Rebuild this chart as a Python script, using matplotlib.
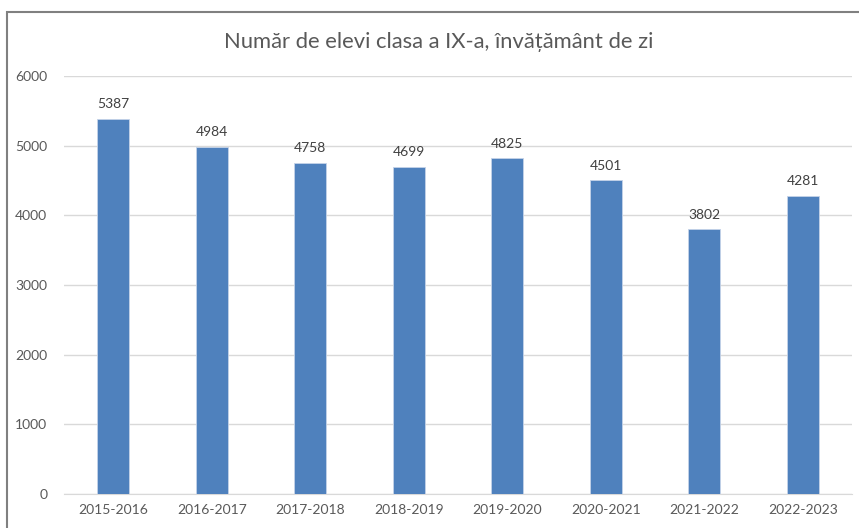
import matplotlib
matplotlib.use("Agg")
import matplotlib.pyplot as plt
from matplotlib.patches import Rectangle

categories = ["2015-2016", "2016-2017", "2017-2018", "2018-2019",
              "2019-2020", "2020-2021", "2021-2022", "2022-2023"]
values = [5387, 4984, 4758, 4699, 4825, 4501, 3802, 4281]
yticks = [0, 1000, 2000, 3000, 4000, 5000, 6000]
title = "Număr de elevi clasa a IX-a, învățământ de zi"

plt.rcParams['font.family'] = ['Lato', 'DejaVu Sans']

W, H = 859, 528
fig = plt.figure(figsize=(W/100, H/100), dpi=100)
fig.patch.set_facecolor("white")

# outer border (chart frame, cropped on right/bottom)
fig.add_artist(Rectangle((7/W, -0.1), 2, (H - 12)/H + 0.1, transform=fig.transFigure,
                         fill=False, edgecolor="#808080", linewidth=1.5))

left, right = 64/W, 852/W
bottom, top = 1 - 494/H, 1 - 76/H
ax = fig.add_axes([left, bottom, right - left, top - bottom])

x = list(range(len(categories)))
bars = ax.bar(x, values, width=0.32, color="#4F81BD", edgecolor="#c5d3e8", linewidth=0.6, zorder=3)
for xi, v in zip(x, values):
    ax.annotate(str(v), (xi, v), xytext=(0, 6), textcoords="offset points",
                ha="center", va="bottom", fontsize=10, color="#404040")

ax.set_xlim(-0.5, len(categories) - 0.5)
ax.set_ylim(0, 6000)
ax.set_yticks(yticks)
ax.set_yticklabels([str(t) for t in yticks])
ax.set_xticks(x)
ax.set_xticklabels(categories)
ax.tick_params(axis="both", length=0, labelsize=10, labelcolor="#595959")
ax.tick_params(axis="y", pad=12)
ax.tick_params(axis="x", pad=7)
ax.grid(axis="y", color="#d9d9d9", linewidth=1, zorder=0)
for s in ["top", "right", "left"]:
    ax.spines[s].set_visible(False)
ax.spines["bottom"].set_color("#d9d9d9")
ax.set_facecolor("white")

fig.text(439/W, 1 - 42/H, title, ha="center", va="center", fontsize=15.8, color="#595959")

fig.savefig("out.png", dpi=100)
